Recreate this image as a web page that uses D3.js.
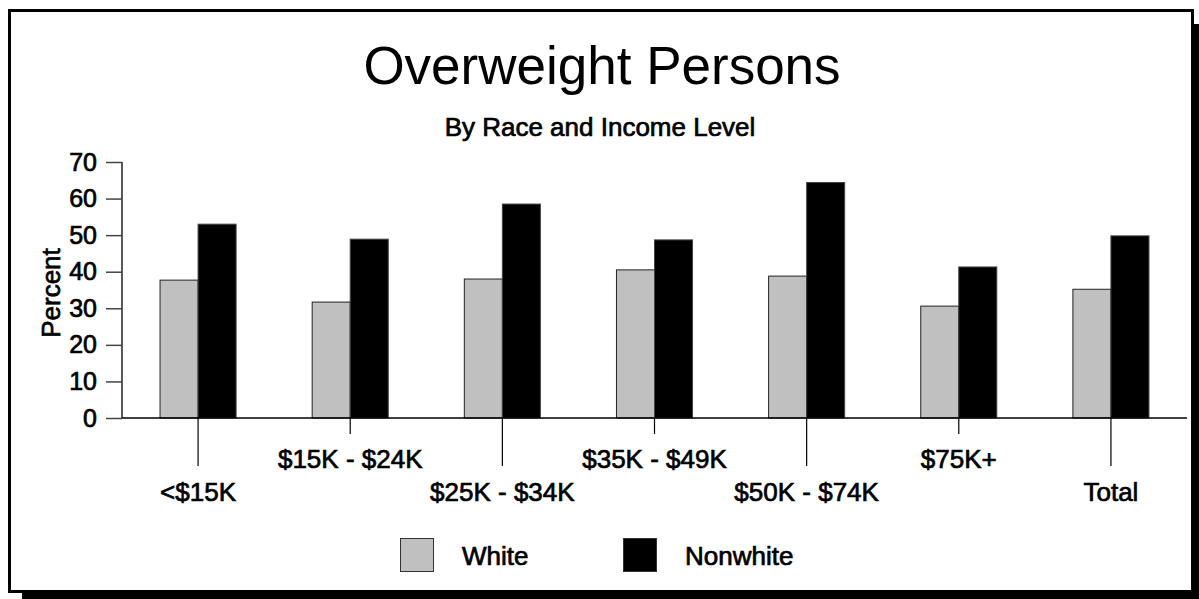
<!DOCTYPE html>
<html>
<head>
<meta charset="utf-8">
<script src="https://cdn.jsdelivr.net/npm/d3@7"></script>
<style>
  html, body { margin: 0; padding: 0; background: #fff; }
  svg { display: block; font-family: "Liberation Sans", Arial, sans-serif; }
  .heavy { stroke: #000; stroke-width: 0.7px; paint-order: fill; }
</style>
</head>
<body>
<svg id="chart" width="1199" height="599"></svg>
<script>
// Income brackets along the x axis
const categories = ["<$15K", "$15K - $24K", "$25K - $34K", "$35K - $49K", "$50K - $74K", "$75K+", "Total"];
// Percent overweight by race
const white    = [37.7, 31.7, 38.0, 40.5, 38.8, 30.6, 35.2];
const nonwhite = [53.0, 48.9, 58.5, 48.7, 64.4, 41.3, 49.8];
const seriesNames = ["White", "Nonwhite"];
const seriesColors = ["#c0c0c0", "#000000"];
const yTicks = [0, 10, 20, 30, 40, 50, 60, 70];

const svg = d3.select("#chart");

// Drop shadow and framed panel
svg.append("rect").attr("x", 22).attr("y", 24).attr("width", 1177).attr("height", 575).attr("fill", "#000");
svg.append("rect").attr("x", 9.5).attr("y", 10.5).attr("width", 1183).attr("height", 581)
  .attr("fill", "#fff").attr("stroke", "#000").attr("stroke-width", 3);

// Titles
svg.append("text").attr("x", 602).attr("y", 84).attr("text-anchor", "middle")
  .attr("font-size", 53).text("Overweight Persons");
svg.append("text").attr("class", "heavy").attr("x", 600).attr("y", 136).attr("text-anchor", "middle")
  .attr("font-size", 26).text("By Race and Income Level");

// Scales
const x0 = d3.scaleBand().domain(categories).range([122, 1187]).padding(0);
const bw = x0.bandwidth();
const x1 = d3.scaleBand().domain(seriesNames).range([bw / 4, bw * 3 / 4]).padding(0);
const y = d3.scaleLinear().domain([0, 70]).range([418, 162]);

// Bars
const rows = categories.map((c, i) => ({ cat: c, vals: [white[i], nonwhite[i]] }));
const groups = svg.append("g").selectAll("g").data(rows).join("g")
  .attr("transform", d => `translate(${x0(d.cat)},0)`);
groups.selectAll("rect").data(d => d.vals.map((v, j) => ({ v, s: seriesNames[j], j })))
  .join("rect")
  .attr("x", d => x1(d.s))
  .attr("width", x1.bandwidth())
  .attr("y", d => y(d.v))
  .attr("height", d => y(0) - y(d.v))
  .attr("fill", d => seriesColors[d.j])
  .attr("stroke", d => d.j === 0 ? "#222" : "#444")
  .attr("stroke-width", 1);

// Y axis
const yAxis = d3.axisLeft(y).tickValues(yTicks).tickSize(16).tickPadding(9);
const gy = svg.append("g").attr("transform", "translate(122,0)").call(yAxis);
gy.select(".domain").attr("stroke", "#000").attr("stroke-width", 1.3).attr("d", `M0,${y(70)}V${y(0)}`);
gy.selectAll(".tick line").attr("stroke", "#444").attr("stroke-width", 1.5);
gy.selectAll(".tick text").attr("class", "heavy").attr("font-size", 25).attr("fill", "#000")
  .attr("font-family", "Liberation Sans, Arial, sans-serif");

// X axis: baseline, staggered ticks and labels
svg.append("line").attr("x1", 122).attr("x2", 1187).attr("y1", y(0)).attr("y2", y(0))
  .attr("stroke", "#000").attr("stroke-width", 1.3);
const xt = svg.append("g").selectAll("g").data(categories).join("g")
  .attr("transform", d => `translate(${x0(d) + bw / 2},0)`);
xt.append("line")
  .attr("y1", y(0)).attr("y2", (d, i) => i % 2 === 0 ? 466 : 434)
  .attr("stroke", "#000").attr("stroke-width", 1.2);
xt.append("text").attr("class", "heavy")
  .attr("y", (d, i) => i % 2 === 0 ? 501 : 468)
  .attr("text-anchor", "middle").attr("font-size", 26)
  .text(d => d);

// Y axis title
svg.append("text").attr("class", "heavy").attr("transform", "translate(60,293) rotate(-90)")
  .attr("text-anchor", "middle").attr("font-size", 26).text("Percent");

// Legend
const legendX = [400, 623];
const lg = svg.append("g").selectAll("g").data(seriesNames).join("g")
  .attr("transform", (d, i) => `translate(${legendX[i]},538)`);
lg.append("rect").attr("x", 0.5).attr("y", 0.5).attr("width", 33).attr("height", 33)
  .attr("fill", (d, i) => seriesColors[i]).attr("stroke", "#333").attr("stroke-width", 1);
lg.append("text").attr("class", "heavy").attr("x", 62).attr("y", 27).attr("font-size", 26).text(d => d);
</script>
</body>
</html>
